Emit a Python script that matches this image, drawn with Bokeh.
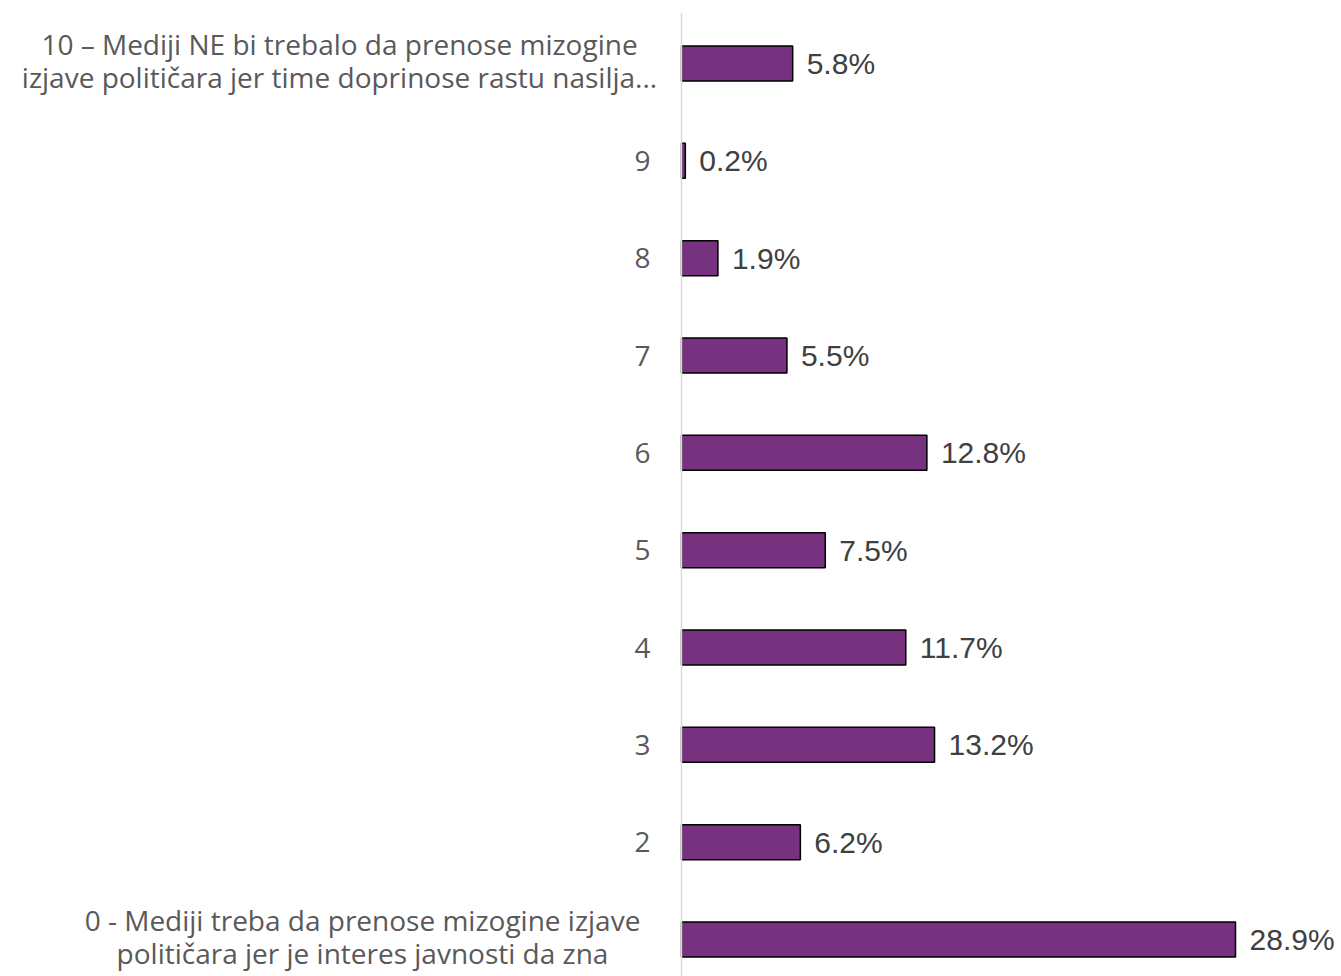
from bokeh.plotting import figure
from bokeh.models import Range1d, ColumnDataSource, Span
from bokeh.core.properties import value
from bokeh.embed import file_html
from bokeh.resources import INLINE

categories = [
    "0 - Mediji treba da prenose mizogine izjave\npolitičara jer je interes javnosti da zna",
    "2", "3", "4", "5", "6", "7", "8", "9",
    "10 – Mediji NE bi trebalo da prenose mizogine\nizjave političara jer time doprinose rastu nasilja...",
]
values = [28.9, 6.2, 13.2, 11.7, 7.5, 12.8, 5.5, 1.9, 0.2, 5.8]
value_labels = ["28.9%", "6.2%", "13.2%", "11.7%", "7.5%", "12.8%", "5.5%", "1.9%", "0.2%", "5.8%"]

pos = list(range(len(categories)))
src = ColumnDataSource(dict(y=pos, v=values, lab=value_labels))

LABEL_FONT = "Open Sans"
LABEL_SIZE = "28px"
LABEL_COLOR = "#595959"

# scale: 19.17 px per percentage point, zero line at 681 px
p = figure(width=1341, height=976, output_backend="svg", toolbar_location=None,
           x_range=Range1d(-681 / 19.17, 660 / 19.17), y_range=Range1d(-0.380, 9.524),
           min_border_left=0, min_border_right=0, min_border_top=12, min_border_bottom=0)
p.outline_line_color = None
p.xgrid.visible = False
p.ygrid.visible = False
p.xaxis.visible = False
p.yaxis.visible = False

p.add_layout(Span(location=0, dimension="height", line_color="#D9D9D9", line_width=1.5))

p.hbar(y="y", right="v", left=0, height=0.36, source=src,
       fill_color="#76317F", line_color="#000000", line_width=1.5)

p.text(x="v", y="y", text="lab", source=src, x_offset=14,
       text_baseline="middle", text_align="left",
       text_font=value("Liberation Sans"), text_font_size="30px", text_color="#404040")

short_y = [i for i, c in zip(pos, categories) if "\n" not in c]
short_t = [c for c in categories if "\n" not in c]
p.text(x=[0] * len(short_y), y=short_y, text=short_t, x_offset=-31,
       text_baseline="middle", text_align="right",
       text_font=value(LABEL_FONT), text_font_size=LABEL_SIZE, text_color=LABEL_COLOR)

long_y = [i for i, c in zip(pos, categories) if "\n" in c]
long_t = [c for c in categories if "\n" in c]
long_off = [-319, -342]  # px from the zero line to each block's centre
p.text(x=[0] * len(long_y), y=long_y, text=long_t, x_offset=long_off, y_offset=-3,
       text_baseline="middle", text_align="center", text_line_height=0.86,
       text_font=value(LABEL_FONT), text_font_size=LABEL_SIZE, text_color=LABEL_COLOR)

open("out.html", "w").write(file_html(p, INLINE))
